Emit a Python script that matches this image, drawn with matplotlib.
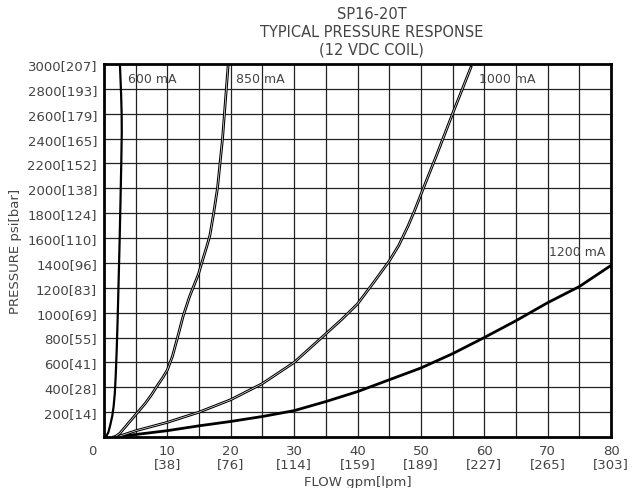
import numpy as np
import matplotlib
matplotlib.use("Agg")
import matplotlib.pyplot as plt

# ------------------
# Data
# ------------------
flow_600 = [0.3, 0.7, 1.0, 1.3, 1.5, 1.7, 1.85, 2.0, 2.15, 2.3, 2.45, 2.6, 2.72, 2.8, 2.78, 2.7, 2.6, 2.5]
psi_600 = [0, 40, 100, 170, 240, 350, 500, 700, 950, 1250, 1550, 1900, 2200, 2450, 2600, 2750, 2880, 3000]

flow_850 = [1.7, 2.5, 3.5, 5.0, 6.5, 7.5, 8.5, 9.3, 10.0, 10.8, 11.6, 12.5, 13.5, 14.9, 15.6,
            16.2, 16.7, 17.3, 17.9, 18.3, 18.7, 19.0, 19.3, 19.6]
psi_850 = [0, 30, 90, 180, 270, 340, 420, 480, 540, 650, 800, 975, 1130, 1310, 1430,
           1530, 1620, 1800, 2000, 2200, 2400, 2600, 2800, 3000]

flow_1000 = [2.0, 5.0, 10.0, 15.0, 20.0, 25.0, 30.0, 35.0, 37.5, 40.0, 42.5, 45.0, 46.5,
             48.0, 49.0, 50.0, 52.5, 55.0, 57.9]
psi_1000 = [0, 50, 118, 200, 300, 430, 600, 830, 945, 1070, 1240, 1415, 1540,
            1700, 1820, 1950, 2270, 2600, 2974]

flow_1200 = [1.5, 5.0, 10.0, 15.0, 20.0, 25.0, 30.0, 35.0, 40.0, 45.0, 50.0, 55.0, 60.0, 65.0, 70.0, 75.0, 80.0]
psi_1200 = [0, 20, 51, 90, 125, 165, 212, 285, 365, 460, 555, 670, 800, 935, 1080, 1210, 1380]

x_ticks = [10, 20, 30, 40, 50, 60, 70, 80]
x_tick_labels = ["10\n[38]", "20\n[76]", "30\n[114]", "40\n[159]", "50\n[189]",
                 "60\n[227]", "70\n[265]", "80\n[303]"]
y_ticks = [200, 400, 600, 800, 1000, 1200, 1400, 1600, 1800, 2000, 2200, 2400, 2600, 2800, 3000]
y_tick_labels = ["200[14]", "400[28]", "600[41]", "800[55]", "1000[69]", "1200[83]",
                 "1400[96]", "1600[110]", "1800[124]", "2000[138]", "2200[152]",
                 "2400[165]", "2600[179]", "2800[193]", "3000[207]"]

curve_labels = ["600 mA", "850 mA", "1000 mA", "1200 mA"]
label_pos = [(3.8, 2880), (20.8, 2880), (59.1, 2880), (70.2, 1490)]

TEXT = "#444444"

# ------------------
# Figure
# ------------------
fig = plt.figure(figsize=(6.32, 4.89), dpi=100)
ax = fig.add_axes([0.1646, 0.1043, 0.8022, 0.7628])

ax.set_xlim(0, 80)
ax.set_ylim(0, 3000)

# grid
for gx in np.arange(5, 80, 5):
    ax.axvline(gx, color="#222222", lw=0.9, zorder=1)
for gy in np.arange(200, 3000, 200):
    ax.axhline(gy, color="#222222", lw=0.9, zorder=1)

# curves: black with thin white core on some to mimic the double (hysteresis) line
curves = [(flow_600, psi_600), (flow_850, psi_850), (flow_1000, psi_1000), (flow_1200, psi_1200)]
widths = [1.6, 2.0, 2.0, 2.0]
for i, (fx, py) in enumerate(curves):
    ax.plot(fx, py, color="black", lw=widths[i], zorder=3, solid_joinstyle="round")
    if i in (1, 2):
        ax.plot(fx, py, color="white", lw=0.45, zorder=4, solid_joinstyle="round")

for lab, (lx, ly) in zip(curve_labels, label_pos):
    ax.text(lx, ly, lab, color=TEXT, fontsize=9, va="center", ha="left", zorder=5)

for s in ax.spines.values():
    s.set_linewidth(2.0)
    s.set_zorder(6)

ax.set_xticks(x_ticks)
ax.set_xticklabels(x_tick_labels, color=TEXT, fontsize=9.5, linespacing=1.0)
ax.set_yticks(y_ticks)
ax.set_yticklabels(y_tick_labels, color=TEXT, fontsize=9.5)
ax.tick_params(length=0, pad=5)

ax.text(-1.2, -60, "0", color=TEXT, fontsize=9.5, ha="right", va="top")

ax.set_xlabel("FLOW gpm[lpm]", color=TEXT, fontsize=9.5, labelpad=4)
ax.set_ylabel("PRESSURE psi[bar]", color=TEXT, fontsize=9.5, labelpad=4)

fig.text(0.588, 0.985, "SP16-20T\nTYPICAL PRESSURE RESPONSE\n(12 VDC COIL)",
         ha="center", va="top", color=TEXT, fontsize=10.5, linespacing=1.2)

fig.savefig("out.png", dpi=100)
